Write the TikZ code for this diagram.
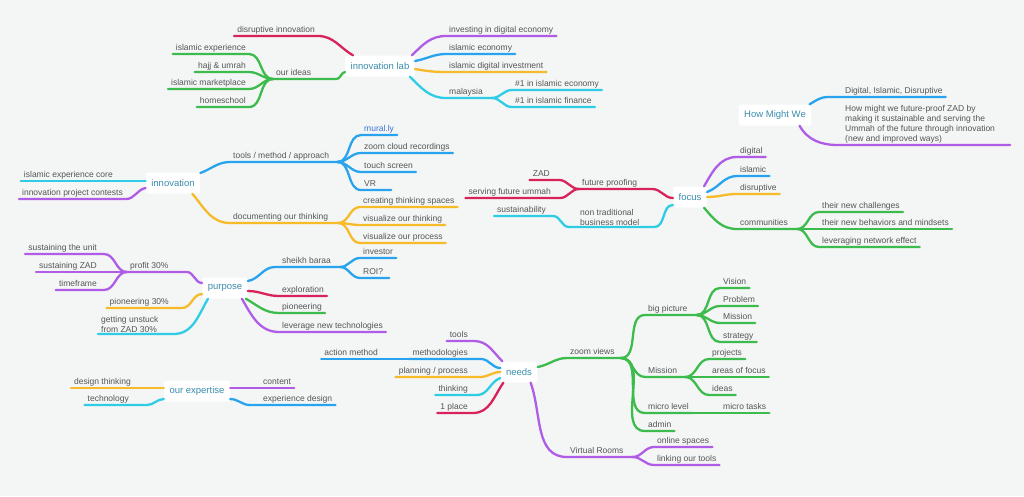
\documentclass[tikz,border=0pt]{standalone}
\usepackage{fontspec}
\setmainfont{Liberation Sans}

\definecolor{bgcol}{HTML}{F3F6F5}
\definecolor{txtcol}{HTML}{555555}
\definecolor{rootcol}{HTML}{3A8DAE}
\definecolor{linkcol}{HTML}{3A6FD8}
\definecolor{mmred}{HTML}{D8235A}
\definecolor{mmpurple}{HTML}{B05CE6}
\definecolor{mmblue}{HTML}{29A3EE}
\definecolor{mmorange}{HTML}{F7BA29}
\definecolor{mmcyan}{HTML}{2FCDE5}
\definecolor{mmgreen}{HTML}{3DBB4C}

\tikzset{
  lbl/.style={text=txtcol, font=\fontsize{8.5}{10}\selectfont, inner xsep=3pt, inner ysep=1.6pt, text height=6.3pt, text depth=1.9pt},
  lbltwo/.style={text=txtcol, font=\fontsize{8.5}{10}\selectfont, inner xsep=3pt, inner ysep=1.6pt, align=left},
  root/.style={fill=white, text=rootcol, font=\fontsize{9.5}{11}\selectfont, rounded corners=2.5pt, inner xsep=5.5pt, minimum height=21pt},
  br/.style={draw=#1, line width=2.3pt, line cap=round},
}

\begin{document}
\begin{tikzpicture}[x=1pt,y=-1pt]
  \useasboundingbox (0,0) rectangle (1024,496);
  \fill[bgcol] (0,0) rectangle (1024,496);

  % innovation lab
  \node[root] (lab) at (380,66) {innovation lab};
  \node[lbl,anchor=south west] (lab1) at (446,36) {investing in digital economy};
  \node[lbl,anchor=south west] (lab2) at (446,54) {islamic economy};
  \node[lbl,anchor=south west] (lab3) at (446,72) {islamic digital investment};
  \node[lbl,anchor=south west] (lab4) at (446,98) {malaysia};
  \node[lbl,anchor=south west] (lab41) at (512,90) {\#1 in islamic economy};
  \node[lbl,anchor=south west] (lab42) at (512,107) {\#1 in islamic finance};
  \node[lbl,anchor=south east] (lab5) at (318,36) {disruptive innovation};
  \node[lbl,anchor=south west] (lab6) at (273,79) {our ideas};
  \node[lbl,anchor=south east] (lab61) at (249,54) {islamic experience};
  \node[lbl,anchor=south east] (lab62) at (249,72) {hajj \& umrah};
  \node[lbl,anchor=south east] (lab63) at (249,89) {islamic marketplace};
  \node[lbl,anchor=south east] (lab64) at (249,107) {homeschool};

  \draw[br=mmpurple] ([xshift=-3pt]lab.north east) to[out=45,in=180] (lab1.south west) -- (lab1.south east);
  \draw[br=mmblue] ([yshift=5pt]lab.east) to[out=10,in=180] (lab2.south west) -- (lab2.south east);
  \draw[br=mmorange] ([yshift=-3pt]lab.east) to[out=-10,in=180] (lab3.south west) -- (lab3.south east);
  \draw[br=mmcyan] ([xshift=-5pt]lab.south east) to[out=-45,in=180] (lab4.south west) -- ([xshift=6pt]lab4.south east);
  \draw[br=mmcyan] ([xshift=6pt]lab4.south east) to[out=0,in=180] (lab41.south west) -- (lab41.south east);
  \draw[br=mmcyan] ([xshift=6pt]lab4.south east) to[out=0,in=180] (lab42.south west) -- (lab42.south east);
  \draw[br=mmred] ([xshift=8pt]lab.north west) to[out=150,in=0] (lab5.south east) -- (lab5.south west);
  \draw[br=mmgreen] ([yshift=-6pt]lab.west) to[out=190,in=0] ([xshift=22pt]lab6.south east) -- (lab6.south west);
  \foreach \n in {lab61,lab62,lab63,lab64}
    \draw[br=mmgreen] (lab6.south west) to[out=180,in=0] (\n.south east) -- (\n.south west);

  % innovation
  \node[root] (inn) at (173,183) {innovation};
  \node[lbl,anchor=south east] (inn1) at (116,181) {islamic experience core};
  \node[lbl,anchor=south east] (inn2) at (126,199) {innovation project contests};
  \node[lbl,anchor=south west] (inn3) at (230,162) {tools / method / approach};
  \node[lbl,anchor=south west] (inn31) at (361,135) {\textcolor{linkcol}{mural.ly}};
  \node[lbl,anchor=south west] (inn32) at (361,153) {zoom cloud recordings};
  \node[lbl,anchor=south west] (inn33) at (361,172) {touch screen};
  \node[lbl,anchor=south west] (inn34) at (361,190) {VR};
  \node[lbl,anchor=south west] (inn4) at (230,223) {documenting our thinking};
  \node[lbl,anchor=south west] (inn41) at (360,207) {creating thinking spaces};
  \node[lbl,anchor=south west] (inn42) at (360,225) {visualize our thinking};
  \node[lbl,anchor=south west] (inn43) at (360,243) {visualize our process};

  \draw[br=mmcyan] ([yshift=2pt]inn.west) -- (inn1.south east) -- (inn1.south west);
  \draw[br=mmpurple] ([yshift=-5pt]inn.west) to[out=190,in=0] (inn2.south east) -- (inn2.south west);
  \draw[br=mmblue] ([yshift=10pt]inn.east) to[out=20,in=180] (inn3.south west) -- ([xshift=5pt]inn3.south east);
  \foreach \n in {inn31,inn32,inn33}
    \draw[br=mmblue] ([xshift=5pt]inn3.south east) to[out=0,in=180] (\n.south west) -- (\n.south east);
  \draw[br=mmblue] ([xshift=5pt]inn3.south east) to[out=0,in=180] (inn34.south west) -- ([xshift=12pt]inn34.south east);
  \draw[br=mmorange] ([xshift=-8pt]inn.south east) to[out=-50,in=180] (inn4.south west) -- ([xshift=7pt]inn4.south east);
  \foreach \n in {inn41,inn42,inn43}
    \draw[br=mmorange] ([xshift=7pt]inn4.south east) to[out=0,in=180] (\n.south west) -- (\n.south east);

  % focus
  \node[root] (foc) at (690,197) {focus};
  \node[lbl,anchor=south west] (foc1) at (579,189) {future proofing};
  \node[lbl,anchor=south east] (foc11) at (553,180) {ZAD};
  \node[lbl,anchor=south east] (foc12) at (554,198) {serving future ummah};
  \node[lbltwo,anchor=south west] (foc2) at (577,227) {non traditional\\business model};
  \node[lbl,anchor=south east] (foc21) at (549,216) {sustainability};
  \node[lbl,anchor=south west] (foc3) at (737,157) {digital};
  \node[lbl,anchor=south west] (foc4) at (737,176) {islamic};
  \node[lbl,anchor=south west] (foc5) at (737,194) {disruptive};
  \node[lbl,anchor=south west] (foc6) at (737,229) {communities};
  \node[lbl,anchor=south west] (foc61) at (819,212) {their new challenges};
  \node[lbl,anchor=south west] (foc62) at (819,229) {their new behaviors and mindsets};
  \node[lbl,anchor=south west] (foc63) at (819,247) {leveraging network effect};

  \draw[br=mmred] ([yshift=-1pt]foc.west) to[out=180,in=0] ([xshift=12pt]foc1.south east) -- (foc1.south west);
  \draw[br=mmred] (foc1.south west) to[out=180,in=0] ([xshift=6pt]foc11.south east) -- (foc11.south west);
  \draw[br=mmred] (foc1.south west) to[out=180,in=0] ([xshift=6pt]foc12.south east) -- (foc12.south west);
  \draw[br=mmcyan] ([yshift=-8pt]foc.west) to[out=180,in=0] ([xshift=12pt]foc2.south east) -- ([xshift=-8pt]foc2.south west);
  \draw[br=mmcyan] ([xshift=-8pt]foc2.south west) to[out=180,in=0] ([xshift=4pt]foc21.south east) -- (foc21.south west);
  \draw[br=mmpurple] ([xshift=-3pt]foc.north east) to[out=60,in=180] (foc3.south west) -- (foc3.south east);
  \draw[br=mmblue] ([yshift=5pt]foc.east) to[out=20,in=180] (foc4.south west) -- (foc4.south east);
  \draw[br=mmorange] (foc.east) to[out=0,in=180] (foc5.south west) -- (foc5.south east);
  \draw[br=mmgreen] ([xshift=-3pt]foc.south east) to[out=-50,in=180] (foc6.south west) -- ([xshift=6pt]foc6.south east);
  \foreach \n in {foc61,foc62,foc63}
    \draw[br=mmgreen] ([xshift=6pt]foc6.south east) to[out=0,in=180] (\n.south west) -- (\n.south east);

  % how might we
  \node[root] (hmw) at (775,115) {How Might We};
  \node[lbl,anchor=south west] (hmw1) at (842,97) {Digital, Islamic, Disruptive};
  \node[lbltwo,anchor=south west] (hmw2) at (842,145) {How might we future-proof ZAD by\\making it sustainable and serving the\\Ummah of the future through innovation\\(new and improved ways)};
  \draw[br=mmblue] ([xshift=-2pt]hmw.north east) to[out=30,in=180] ([xshift=-14pt]hmw1.south west) -- (hmw1.south east);
  \draw[br=mmpurple] ([xshift=-12pt]hmw.south east) to[out=-60,in=180] ([xshift=-4pt]hmw2.south west) -- ([xshift=12pt]hmw2.south east);

  % purpose
  \node[root] (pur) at (225,288) {purpose};
  \node[lbl,anchor=south west] (pur1) at (127,272) {profit 30\%};
  \node[lbl,anchor=south east] (pur11) at (100,254) {sustaining the unit};
  \node[lbl,anchor=south east] (pur12) at (100,272) {sustaining ZAD};
  \node[lbl,anchor=south east] (pur13) at (100,290) {timeframe};
  \node[lbl,anchor=south east] (pur2) at (172,308) {pioneering 30\%};
  \node[lbltwo,anchor=south west] (pur3) at (98,334) {getting unstuck\\from ZAD 30\%};
  \node[lbl,anchor=south west] (pur4) at (279,267) {sheikh baraa};
  \node[lbl,anchor=south west] (pur41) at (360,258) {investor};
  \node[lbl,anchor=south west] (pur42) at (360,278) {ROI?};
  \node[lbl,anchor=south west] (pur5) at (279,296) {exploration};
  \node[lbl,anchor=south west] (pur6) at (279,313) {pioneering};
  \node[lbl,anchor=south west] (pur7) at (279,332) {leverage new technologies};

  \draw[br=mmpurple] ([yshift=5pt]pur.west) to[out=180,in=0] ([xshift=15pt]pur1.south east) -- (pur1.south west);
  \foreach \n in {pur11,pur12,pur13}
    \draw[br=mmpurple] (pur1.south west) to[out=180,in=0] ([xshift=4pt]\n.south east) -- (\n.south west);
  \draw[br=mmorange] ([yshift=-6pt]pur.west) to[out=180,in=0] ([xshift=10pt]pur2.south east) -- (pur2.south west);
  \draw[br=mmcyan] ([xshift=-17pt]pur.south) to[out=240,in=0] ([xshift=12pt]pur3.south east) -- (pur3.south west);
  \draw[br=mmblue] ([yshift=7pt]pur.east) to[out=10,in=180] ([xshift=-4pt]pur4.south west) -- ([xshift=6pt]pur4.south east);
  \draw[br=mmblue] ([xshift=6pt]pur4.south east) to[out=0,in=180] (pur41.south west) -- (pur41.south east);
  \draw[br=mmblue] ([xshift=6pt]pur4.south east) to[out=0,in=180] (pur42.south west) -- ([xshift=3pt]pur42.south east);
  \draw[br=mmred] ([yshift=-3pt]pur.east) to[out=0,in=180] (pur5.south west) -- (pur5.south east);
  \draw[br=mmgreen] ([xshift=-2pt]pur.south east) to[out=-30,in=180] (pur6.south west) -- (pur6.south east);
  \draw[br=mmpurple] ([xshift=-6pt]pur.south east) to[out=-60,in=180] (pur7.south west) -- (pur7.south east);

  % needs
  \node[root] (nee) at (519,372) {needs};
  \node[lbl,anchor=south east] (nee1) at (471,341) {tools};
  \node[lbl,anchor=south east] (nee2) at (471,359) {methodologies};
  \node[lbl,anchor=south east] (nee21) at (381,359) {action method};
  \node[lbl,anchor=south east] (nee3) at (471,377) {planning / process};
  \node[lbl,anchor=south east] (nee4) at (471,395) {thinking};
  \node[lbl,anchor=south east] (nee5) at (471,413) {1 place};
  \node[lbl,anchor=south west] (nee6) at (567,358) {zoom views};
  \node[lbl,anchor=south west] (nee61) at (645,315) {big picture};
  \node[lbl,anchor=south west] (nee611) at (720,288) {Vision};
  \node[lbl,anchor=south west] (nee612) at (720,306) {Problem};
  \node[lbl,anchor=south west] (nee613) at (720,323) {Mission};
  \node[lbl,anchor=south west] (nee614) at (720,342) {strategy};
  \node[lbl,anchor=south west] (nee62) at (645,377) {Mission};
  \node[lbl,anchor=south west] (nee621) at (709,359) {projects};
  \node[lbl,anchor=south west] (nee622) at (709,377) {areas of focus};
  \node[lbl,anchor=south west] (nee623) at (709,395) {ideas};
  \node[lbl,anchor=south west] (nee63) at (645,413) {micro level};
  \node[lbl,anchor=south west] (nee631) at (720,413) {micro tasks};
  \node[lbl,anchor=south west] (nee64) at (645,431) {admin};
  \node[lbl,anchor=south west] (nee7) at (567,457) {Virtual Rooms};
  \node[lbl,anchor=south west] (nee71) at (654,447) {online spaces};
  \node[lbl,anchor=south west] (nee72) at (654,465) {linking our tools};

  \draw[br=mmpurple] ([xshift=2pt]nee.north west) to[out=135,in=0] ([xshift=3pt]nee1.south east) -- (nee1.south west);
  \draw[br=mmblue] ([yshift=4pt]nee.west) to[out=180,in=0] ([xshift=10pt]nee2.south east) -- (nee2.south west);
  \draw[br=mmblue] (nee2.south west) -- (nee21.south east) -- (nee21.south west);
  \draw[br=mmorange] (nee.west) to[out=180,in=0] ([xshift=9pt]nee3.south east) -- (nee3.south west);
  \draw[br=mmcyan] ([yshift=-6pt]nee.west) to[out=200,in=0] ([xshift=6pt]nee4.south east) -- (nee4.south west);
  \draw[br=mmred] ([xshift=3pt]nee.south west) to[out=235,in=0] ([xshift=2pt]nee5.south east) -- (nee5.south west);
  \draw[br=mmgreen] ([yshift=5pt]nee.east) to[out=10,in=180] (nee6.south west) -- ([xshift=3pt]nee6.south east);
  \draw[br=mmgreen] ([xshift=3pt]nee6.south east) to[out=0,in=180] (nee61.south west) -- ([xshift=6pt]nee61.south east);
  \foreach \n in {nee611,nee612,nee613,nee614}
    \draw[br=mmgreen] ([xshift=6pt]nee61.south east) to[out=0,in=180] (\n.south west) -- (\n.south east);
  \draw[br=mmgreen] ([xshift=3pt]nee6.south east) to[out=0,in=180] (nee62.south west) -- ([xshift=5pt]nee62.south east);
  \foreach \n in {nee621,nee622,nee623}
    \draw[br=mmgreen] ([xshift=5pt]nee62.south east) to[out=0,in=180] (\n.south west) -- (\n.south east);
  \draw[br=mmgreen] ([xshift=3pt]nee6.south east) to[out=0,in=180] (nee63.south west) -- (nee63.south east);
  \draw[br=mmgreen] (nee63.south east) -- (nee631.south west) -- (nee631.south east);
  \draw[br=mmgreen] ([xshift=3pt]nee6.south east) to[out=0,in=180] (nee64.south west) -- (nee64.south east);
  \draw[br=mmpurple] ([xshift=-7pt]nee.south east) to[out=-70,in=180] (nee7.south west) -- ([xshift=6pt]nee7.south east);
  \foreach \n in {nee71,nee72}
    \draw[br=mmpurple] ([xshift=6pt]nee7.south east) to[out=0,in=180] (\n.south west) -- (\n.south east);

  % our expertise
  \node[root] (exp) at (197,391) {our expertise};
  \node[lbl,anchor=south east] (exp1) at (134,388) {design thinking};
  \node[lbl,anchor=south east] (exp2) at (132,405) {technology};
  \node[lbl,anchor=south west] (exp3) at (260,388) {content};
  \node[lbl,anchor=south west] (exp4) at (260,405) {experience design};
  \draw[br=mmorange] ([yshift=3pt]exp.west) -- (exp1.south east) -- (exp1.south west);
  \draw[br=mmcyan] ([yshift=-8pt]exp.west) to[out=180,in=0] ([xshift=15pt]exp2.south east) -- (exp2.south west);
  \draw[br=mmpurple] ([yshift=3pt]exp.east) -- (exp3.south west) -- (exp3.south east);
  \draw[br=mmblue] ([yshift=-8pt]exp.east) to[out=0,in=180] ([xshift=-10pt]exp4.south west) -- (exp4.south east);
\end{tikzpicture}
\end{document}
